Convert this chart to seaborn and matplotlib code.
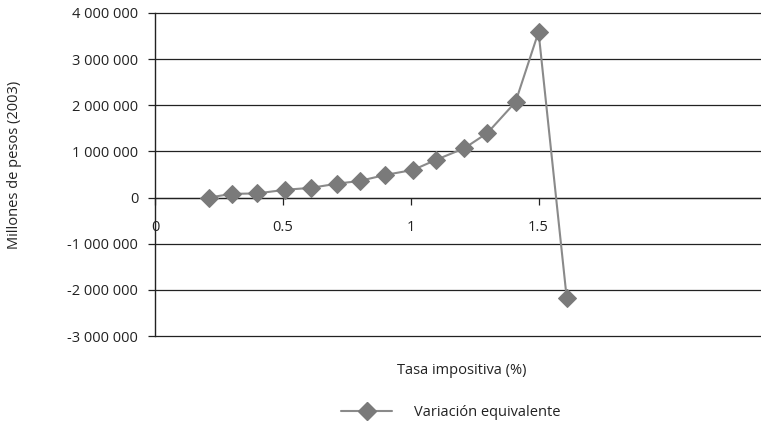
import matplotlib
matplotlib.use("Agg")
import matplotlib.pyplot as plt
import matplotlib.ticker as mticker
from matplotlib.lines import Line2D
import seaborn as sns
import pandas as pd

tasa = [0.21, 0.30, 0.40, 0.51, 0.61, 0.71, 0.80, 0.90, 1.01, 1.10, 1.21, 1.30, 1.41, 1.50, 1.61]
variacion = [0, 80000, 90000, 170000, 210000, 300000, 360000, 490000, 600000, 820000,
             1070000, 1400000, 2070000, 3590000, -2170000]
yticks = [-3000000, -2000000, -1000000, 0, 1000000, 2000000, 3000000, 4000000]
xticks = [0, 0.5, 1, 1.5]
xtick_labels = ["0", "0.5", "1", "1.5"]

df = pd.DataFrame({"tasa": tasa, "variacion": variacion})

sns.set_style("white")
plt.rcParams["font.family"] = ["Open Sans", "DejaVu Sans"]

fig = plt.figure(figsize=(7.61, 4.28), dpi=100)
ax = fig.add_axes([155 / 761, 1 - 336 / 428, 1 - 155 / 761, (336 - 13) / 428])

sns.lineplot(data=df, x="tasa", y="variacion", ax=ax, color="#8a8a8a", linewidth=1.5,
             marker="D", markersize=9, markerfacecolor="#7a7a7a", markeredgecolor="#7a7a7a",
             sort=False, legend=False, zorder=3)

ax.set_xlim(0, 2.37)
ax.set_ylim(-3000000, 4000000)
ax.set_yticks(yticks)
ax.yaxis.set_major_formatter(mticker.FuncFormatter(
    lambda v, p: "0" if v == 0 else ("-" if v < 0 else "") + f"{abs(int(v)):,}".replace(",", " ")))
ax.set_xticks(xticks)
ax.set_xticklabels(xtick_labels)

for y in yticks:
    ax.axhline(y, color="#222222", linewidth=0.9, zorder=0, clip_on=False)

for s in ["top", "right"]:
    ax.spines[s].set_visible(False)
ax.spines["left"].set_color("#222222")
ax.spines["left"].set_linewidth(1.0)
ax.spines["bottom"].set_position(("data", 0))
ax.spines["bottom"].set_color("#222222")
ax.spines["bottom"].set_linewidth(0.9)

ax.tick_params(axis="y", direction="out", length=5, width=0.9, color="#222222",
               labelsize=10.5, labelcolor="#222222", pad=7)
ax.tick_params(axis="x", direction="out", length=5, width=0.9, color="#222222",
               labelsize=10.5, labelcolor="#222222", pad=11)
ax.xaxis.set_ticks_position("bottom")
ax.yaxis.set_ticks_position("left")

ax.set_xlabel("")
ax.set_ylabel("")
fig.text(15 / 761, 1 - 165 / 428, "Millones de pesos (2003)", rotation=90, ha="center", va="center",
         fontsize=10.5, color="#222222")
fig.text(462 / 761, 1 - 370 / 428, "Tasa impositiva (%)", ha="center", va="center",
         fontsize=10.5, color="#222222")

handle = Line2D([0], [0], color="#8a8a8a", linewidth=1.5, marker="D", markersize=9.5,
                markerfacecolor="#7a7a7a", markeredgecolor="#7a7a7a")
fig.legend([handle], ["Variación equivalente"], loc="center", bbox_to_anchor=(451 / 761, 1 - 413 / 428),
           frameon=False, fontsize=10.5, handlelength=3.5, handletextpad=1.5, labelcolor="#222222")

fig.savefig("out.png", dpi=100)
